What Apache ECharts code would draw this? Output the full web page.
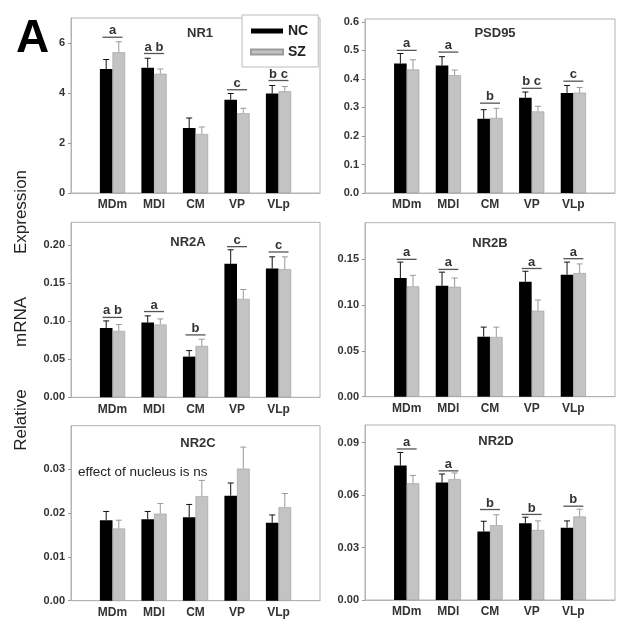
<!DOCTYPE html>
<html>
<head>
<meta charset="utf-8">
<script src="https://cdn.jsdelivr.net/npm/echarts@6/dist/echarts.min.js"></script>
<style>html,body{margin:0;padding:0;background:#fff}#c{width:629px;height:633px}</style>
</head>
<body>
<div id="c"></div>
<script>
// ---------- DATA ----------
const categories = ['MDm', 'MDl', 'CM', 'VP', 'VLp'];
const seriesNames = ['NC', 'SZ'];

const nr1_nc = [4.96, 5.01, 2.60, 3.73, 3.98];
const nr1_ncErr = [0.38, 0.38, 0.40, 0.25, 0.32];
const nr1_sz = [5.63, 4.77, 2.36, 3.19, 4.07];
const nr1_szErr = [0.42, 0.19, 0.28, 0.20, 0.19];
const nr1_sigY = [6.23, 5.58, null, 4.13, 4.50];
const nr1_sigText = ['a', 'a b', '', 'c', 'b c'];
const nr1_ticks = [0, 2, 4, 6];

const psd95_nc = [0.454, 0.447, 0.260, 0.334, 0.351];
const psd95_ncErr = [0.035, 0.031, 0.032, 0.020, 0.026];
const psd95_sz = [0.433, 0.413, 0.263, 0.286, 0.352];
const psd95_szErr = [0.034, 0.018, 0.034, 0.018, 0.018];
const psd95_sigY = [0.500, 0.494, 0.315, 0.367, 0.392];
const psd95_sigText = ['a', 'a', 'b', 'b c', 'c'];
const psd95_ticks = [0, 0.1, 0.2, 0.3, 0.4, 0.5, 0.6];

const nr2a_nc = [0.0912, 0.0982, 0.0535, 0.1754, 0.1693];
const nr2a_ncErr = [0.0092, 0.0088, 0.0079, 0.0185, 0.0153];
const nr2a_sz = [0.0873, 0.0956, 0.0675, 0.1294, 0.1684];
const nr2a_szErr = [0.0083, 0.0074, 0.0088, 0.0123, 0.0162];
const nr2a_sigY = [0.105, 0.1127, 0.082, 0.198, 0.191];
const nr2a_sigText = ['a b', 'a', 'b', 'c', 'c'];
const nr2a_ticks = [0, 0.05, 0.10, 0.15, 0.20];

const nr2b_nc = [0.1296, 0.1212, 0.0655, 0.1256, 0.1332];
const nr2b_ncErr = [0.0174, 0.0148, 0.0105, 0.0114, 0.0138];
const nr2b_sz = [0.1205, 0.1200, 0.0652, 0.0939, 0.1350];
const nr2b_szErr = [0.0120, 0.0096, 0.0108, 0.0117, 0.0100];
const nr2b_sigY = [0.150, 0.139, null, 0.140, 0.1507];
const nr2b_sigText = ['a', 'a', '', 'a', 'a'];
const nr2b_ticks = [0, 0.05, 0.10, 0.15];

const nr2c_nc = [0.0184, 0.0186, 0.0191, 0.0240, 0.0178];
const nr2c_ncErr = [0.0020, 0.0018, 0.0029, 0.0029, 0.0018];
const nr2c_sz = [0.0165, 0.0199, 0.0239, 0.0302, 0.0214];
const nr2c_szErr = [0.0019, 0.0023, 0.0036, 0.0049, 0.0031];
const nr2c_sigY = [null, null, null, null, null];
const nr2c_sigText = ['', '', '', '', ''];
const nr2c_ticks = [0, 0.01, 0.02, 0.03];

const nr2d_nc = [0.0768, 0.0671, 0.0392, 0.0438, 0.0413];
const nr2d_ncErr = [0.0075, 0.0049, 0.0058, 0.0035, 0.0039];
const nr2d_sz = [0.0667, 0.0690, 0.0427, 0.0400, 0.0477];
const nr2d_szErr = [0.0045, 0.0036, 0.0060, 0.0052, 0.0042];
const nr2d_sigY = [0.0863, 0.0738, 0.0517, 0.0489, 0.0536];
const nr2d_sigText = ['a', 'a', 'b', 'b', 'b'];
const nr2d_ticks = [0, 0.03, 0.06, 0.09];

const panels = [
  {title: 'NR1',   nc: nr1_nc,   ncErr: nr1_ncErr,   sz: nr1_sz,   szErr: nr1_szErr,   sigY: nr1_sigY,   sigText: nr1_sigText,   ticks: nr1_ticks,   yMax: 7,    dec: 0},
  {title: 'PSD95', nc: psd95_nc, ncErr: psd95_ncErr, sz: psd95_sz, szErr: psd95_szErr, sigY: psd95_sigY, sigText: psd95_sigText, ticks: psd95_ticks, yMax: 0.61, dec: 1},
  {title: 'NR2A',  nc: nr2a_nc,  ncErr: nr2a_ncErr,  sz: nr2a_sz,  szErr: nr2a_szErr,  sigY: nr2a_sigY,  sigText: nr2a_sigText,  ticks: nr2a_ticks,  yMax: 0.23, dec: 2},
  {title: 'NR2B',  nc: nr2b_nc,  ncErr: nr2b_ncErr,  sz: nr2b_sz,  szErr: nr2b_szErr,  sigY: nr2b_sigY,  sigText: nr2b_sigText,  ticks: nr2b_ticks,  yMax: 0.19, dec: 2},
  {title: 'NR2C',  nc: nr2c_nc,  ncErr: nr2c_ncErr,  sz: nr2c_sz,  szErr: nr2c_szErr,  sigY: nr2c_sigY,  sigText: nr2c_sigText,  ticks: nr2c_ticks,  yMax: 0.04, dec: 2},
  {title: 'NR2D',  nc: nr2d_nc,  ncErr: nr2d_ncErr,  sz: nr2d_sz,  szErr: nr2d_szErr,  sigY: nr2d_sigY,  sigText: nr2d_sigText,  ticks: nr2d_ticks,  yMax: 0.10, dec: 2}
];

// ---------- LAYOUT ----------
const layout = [
  {left: 71,  top: 18,    width: 249, height: 175, titleX: 200, titleY: 33},
  {left: 365, top: 19,    width: 250, height: 174, titleX: 495, titleY: 33},
  {left: 71,  top: 222.3, width: 249, height: 175, titleX: 188, titleY: 242},
  {left: 365, top: 222.7, width: 250, height: 174, titleX: 490, titleY: 243},
  {left: 71,  top: 425.7, width: 249, height: 175, titleX: 198, titleY: 443},
  {left: 365, top: 425,   width: 250, height: 175, titleX: 496, titleY: 441}
];

const FONT = '"Liberation Sans", Arial, sans-serif';
const BAR_W = 12.6;
const FRAME = '#b3b3b3';
const NC_COLOR = '#000000';
const SZ_COLOR = '#c3c3c3';

const axisCats = [''].concat(categories, ['']);

function errRenderer(sign, color) {
  return function (params, api) {
    const i = api.value(0), v = api.value(1), e = api.value(2);
    const base = api.coord([i, v]);
    const top = api.coord([i, v + e]);
    const x = base[0] + sign * BAR_W / 2;
    const st = {stroke: color, lineWidth: 1};
    return {type: 'group', children: [
      {type: 'line', shape: {x1: x, y1: base[1], x2: x, y2: top[1]}, style: st},
      {type: 'line', shape: {x1: x - 3, y1: top[1], x2: x + 3, y2: top[1]}, style: st}
    ]};
  };
}

function sigRenderer(texts) {
  return function (params, api) {
    const i = api.value(0), y = api.value(1);
    const p = api.coord([i, y]);
    return {type: 'group', children: [
      {type: 'line', shape: {x1: p[0] - 10, y1: p[1], x2: p[0] + 10, y2: p[1]}, style: {stroke: '#555', lineWidth: 1.3}},
      {type: 'text', x: p[0], y: p[1] - 6.5, style: {text: texts[params.dataIndex], fill: '#333', font: 'bold 13px ' + FONT, align: 'center', verticalAlign: 'middle'}}
    ]};
  };
}

const grid = [], xAxis = [], yAxis = [], series = [], graphic = [];

panels.forEach(function (p, k) {
  const L = layout[k];
  grid.push({left: L.left, top: L.top, width: L.width, height: L.height, show: true, borderColor: FRAME, borderWidth: 1, containLabel: false});
  xAxis.push({
    type: 'category', gridIndex: k, data: axisCats, boundaryGap: false,
    axisLine: {lineStyle: {color: FRAME}}, axisTick: {show: false}, splitLine: {show: false},
    axisLabel: {interval: 0, color: '#333', fontWeight: 'bold', fontSize: 12, fontFamily: FONT, margin: 6}
  });
  yAxis.push({
    type: 'value', gridIndex: k, min: 0, max: p.yMax,
    axisLine: {show: true, lineStyle: {color: FRAME}},
    axisTick: {show: true, length: 3, lineStyle: {color: '#999'}, customValues: p.ticks},
    splitLine: {show: false},
    axisLabel: {color: '#333', fontWeight: 'bold', fontSize: 11, fontFamily: FONT, margin: 6,
      customValues: p.ticks,
      formatter: function (v) { return Number(v).toFixed(p.dec); }}
  });
  const toBar = function (arr) { return ['-'].concat(arr, ['-']); };
  series.push({name: 'NC', type: 'bar', xAxisIndex: k, yAxisIndex: k, data: toBar(p.nc), barWidth: BAR_W, barGap: '0%',
    itemStyle: {color: NC_COLOR}, silent: true});
  series.push({name: 'SZ', type: 'bar', xAxisIndex: k, yAxisIndex: k, data: toBar(p.sz), barWidth: BAR_W, barGap: '0%',
    itemStyle: {color: SZ_COLOR, borderColor: '#9c9c9c', borderWidth: 0.6}, silent: true});
  series.push({type: 'custom', xAxisIndex: k, yAxisIndex: k, z: 5, silent: true,
    renderItem: errRenderer(-1, '#111'),
    data: p.nc.map(function (v, i) { return [i + 1, v, p.ncErr[i]]; })});
  series.push({type: 'custom', xAxisIndex: k, yAxisIndex: k, z: 5, silent: true,
    renderItem: errRenderer(1, '#999'),
    data: p.sz.map(function (v, i) { return [i + 1, v, p.szErr[i]]; })});
  const sigIdx = [], sigTexts = [];
  p.sigY.forEach(function (y, i) { if (y != null) { sigIdx.push([i + 1, y]); sigTexts.push(p.sigText[i]); } });
  if (sigIdx.length) {
    series.push({type: 'custom', xAxisIndex: k, yAxisIndex: k, z: 6, silent: true,
      renderItem: sigRenderer(sigTexts), data: sigIdx});
  }
  graphic.push({type: 'text', x: L.titleX, y: L.titleY, silent: true,
    style: {text: p.title, fill: '#333', font: 'bold 13px ' + FONT, align: 'center', verticalAlign: 'middle'}});
});

graphic.push({type: 'text', x: 78, y: 472, style: {text: 'effect of nucleus is ns', fill: '#222', font: '13.5px ' + FONT, align: 'left', verticalAlign: 'middle'}});
graphic.push({type: 'text', x: 16, y: 39, style: {text: 'A', fill: '#000', font: 'bold 46px ' + FONT, align: 'left', verticalAlign: 'middle'}});
[['Expression', 212], ['mRNA', 322], ['Relative', 420]].forEach(function (w) {
  graphic.push({type: 'text', x: 21, y: w[1], rotation: Math.PI / 2,
    style: {text: w[0], fill: '#222', font: '17px ' + FONT, align: 'center', verticalAlign: 'middle'}});
});

const chart = echarts.init(document.getElementById('c'), null, {renderer: 'canvas'});
chart.setOption({
  animation: false,
  backgroundColor: '#fff',
  grid: grid, xAxis: xAxis, yAxis: yAxis, series: series, graphic: graphic,
  legend: {
    data: seriesNames, orient: 'vertical', left: 242, top: 15,
    icon: 'rect', itemWidth: 32, itemHeight: 5, itemGap: 7,
    padding: [9, 10, 8, 8],
    backgroundColor: '#fff', borderColor: '#bbb', borderWidth: 1,
    textStyle: {fontWeight: 'bold', fontSize: 14, color: '#222', fontFamily: FONT},
    selectedMode: false, z: 10
  }
});
</script>
</body>
</html>
